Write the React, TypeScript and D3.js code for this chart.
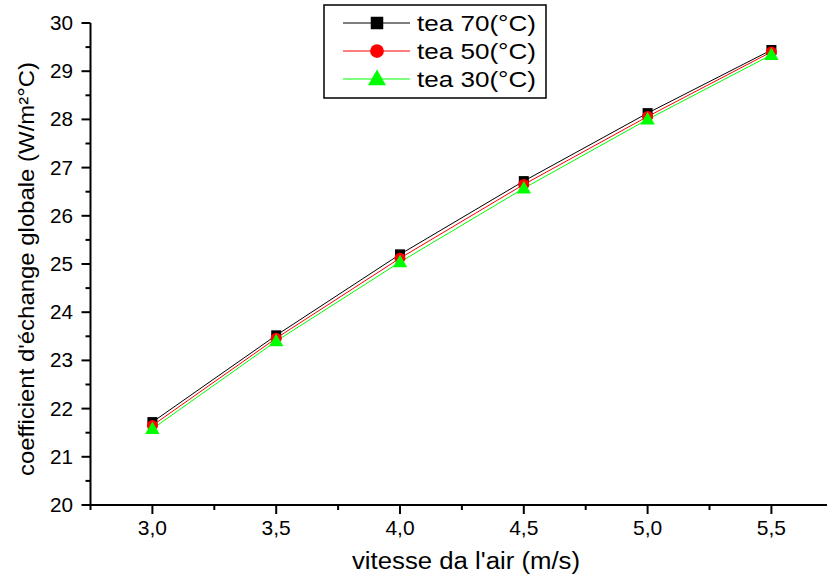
import React from "react";
import * as d3 from "d3";

// air speed (m/s)
const speeds = [3.0, 3.5, 4.0, 4.5, 5.0, 5.5];
// global exchange coefficient (W/m²°C)
const tea70 = [21.72, 23.52, 25.2, 26.72, 28.13, 29.44];
const tea50 = [21.65, 23.46, 25.12, 26.65, 28.06, 29.4];
const tea30 = [21.58, 23.4, 25.04, 26.57, 28.0, 29.34];
const seriesNames = ["tea 70(°C)", "tea 50(°C)", "tea 30(°C)"];

const xTicks = [3.0, 3.5, 4.0, 4.5, 5.0, 5.5];
const xMinor = [2.75, 3.25, 3.75, 4.25, 4.75, 5.25, 5.75];
const yTicks = [20, 21, 22, 23, 24, 25, 26, 27, 28, 29, 30];
const yMinor = [20.5, 21.5, 22.5, 23.5, 24.5, 25.5, 26.5, 27.5, 28.5, 29.5];

const W = 827;
const H = 580;
const left = 90.5;
const bottom = 505;
const top = 23;

const font = "'Liberation Sans', Arial, sans-serif";

function Marker({ kind, x, y, s = 1 }: { kind: number; x: number; y: number; s?: number }) {
  if (kind === 0) {
    return <rect x={x - 5 * s} y={y - 5 * s} width={10 * s} height={10 * s} fill="#000" />;
  }
  if (kind === 1) {
    return <circle cx={x} cy={y} r={5.5 * s} fill="#ff0000" />;
  }
  const tri = d3.symbol().type(d3.symbolTriangle).size(90 * s * s)();
  return <path d={tri || ""} transform={`translate(${x},${y + 1})`} fill="#00ff00" />;
}

export default function App() {
  const x = d3.scaleLinear().domain([2.75, 5.75]).range([left, left + 3 * 247.6]);
  const y = d3.scaleLinear().domain([20, 30]).range([bottom, top]);
  const fmt = (v: number) => v.toFixed(1).replace(".", ",");

  const series = [
    { name: seriesNames[0], values: tea70, color: "#000000" },
    { name: seriesNames[1], values: tea50, color: "#ff0000" },
    { name: seriesNames[2], values: tea30, color: "#00ff00" },
  ];

  const line = (vals: number[]) =>
    d3.line<number>()
      .x((_, i) => x(speeds[i]))
      .y((d) => y(d))(vals) || "";

  const legendX = 324;
  const legendY = 5;

  return (
    <svg
      width={W}
      height={H}
      style={{ position: "absolute", left: 0, top: 0, background: "#fff" }}
      fontFamily={font}
    >
      <rect width={W} height={H} fill="#fff" />

      {/* lines */}
      {series.map((s) => (
        <path key={s.name} d={line(s.values)} fill="none" stroke={s.color} strokeWidth={1} />
      ))}
      {/* markers */}
      {series.map((s, k) =>
        s.values.map((v, i) => (
          <Marker key={`${k}-${i}`} kind={k} x={x(speeds[i])} y={y(v)} />
        ))
      )}

      {/* y axis */}
      <line x1={left} x2={left} y1={top} y2={bottom + 1} stroke="#000" strokeWidth={2} />
      {yTicks.map((t) => (
        <g key={t}>
          <line x1={left - 9} x2={left} y1={y(t)} y2={y(t)} stroke="#000" strokeWidth={2} />
          <text x={73} y={y(t)} dy="0.35em" textAnchor="end" fontSize={20} textLength={23} lengthAdjust="spacingAndGlyphs">
            {t}
          </text>
        </g>
      ))}
      {yMinor.map((t) => (
        <line key={t} x1={left - 5} x2={left} y1={y(t)} y2={y(t)} stroke="#000" strokeWidth={2} />
      ))}

      {/* x axis */}
      <line x1={left - 1} x2={W} y1={bottom} y2={bottom} stroke="#000" strokeWidth={2} />
      {xTicks.map((t) => (
        <g key={t}>
          <line x1={x(t)} x2={x(t)} y1={bottom} y2={bottom + 9} stroke="#000" strokeWidth={2} />
          <text x={x(t)} y={535} textAnchor="middle" fontSize={21}>
            {fmt(t)}
          </text>
        </g>
      ))}
      {xMinor.map((t) => (
        <line key={t} x1={x(t)} x2={x(t)} y1={bottom} y2={bottom + 5} stroke="#000" strokeWidth={2} />
      ))}

      {/* axis titles */}
      <text x={352} y={569} fontSize={23} textLength={228} lengthAdjust="spacingAndGlyphs">
        vitesse da l'air (m/s)
      </text>
      <text
        transform="translate(34,476) rotate(-90)"
        fontSize={22}
        textLength={414}
        lengthAdjust="spacingAndGlyphs"
      >
        coefficient d'échange globale (W/m²°C)
      </text>

      {/* legend */}
      <rect x={legendX} y={legendY} width={222} height={93} fill="#fff" stroke="#000" strokeWidth={1.5} />
      {series.map((s, k) => {
        const cy = 23 + k * 28;
        return (
          <g key={s.name}>
            <line x1={343} x2={410} y1={cy} y2={cy} stroke={s.color} strokeWidth={1} />
            <Marker kind={k} x={377} y={cy} s={1.25} />
            <text x={417} y={cy} dy="0.35em" fontSize={22} textLength={119} lengthAdjust="spacingAndGlyphs">
              {s.name}
            </text>
          </g>
        );
      })}
    </svg>
  );
}
